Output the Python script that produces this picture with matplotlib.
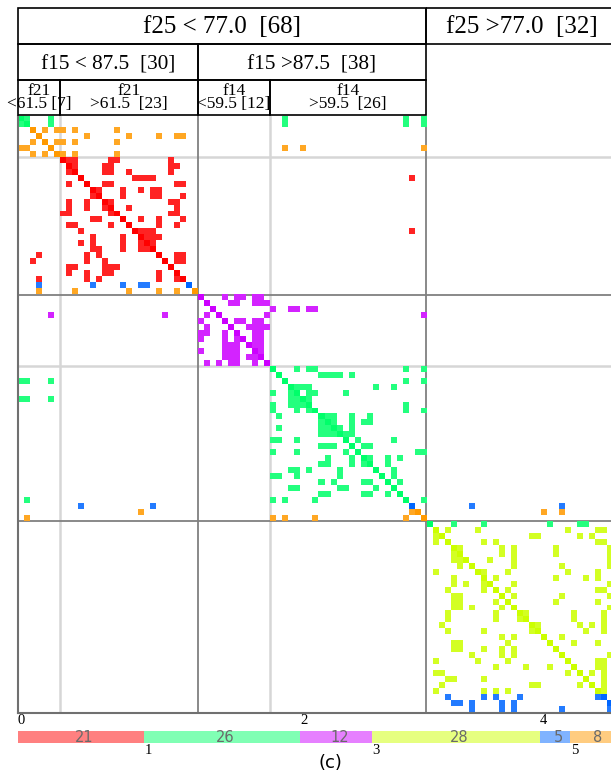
import matplotlib

matplotlib.use("Agg")
import matplotlib.colors as mcolors
import matplotlib.pyplot as plt
import numpy as np
from matplotlib.patches import Rectangle

# cluster of each row/column item, in tree (leaf) order
row_cluster = [
    1, 1, 5, 5, 5, 5, 5,
    0, 0, 0, 0, 0, 0, 0, 0, 0, 0, 0, 0, 0, 0, 0, 0, 0, 0, 0, 0, 0, 4, 5,
    2, 2, 2, 2, 2, 2, 2, 2, 2, 2, 2, 2,
    1, 1, 1, 1, 1, 1, 1, 1, 1, 1, 1, 1, 1, 1, 1, 1, 1, 1, 1, 1, 1, 1, 1, 4, 5, 5,
    1, 3, 3, 3, 3, 3, 3, 3, 3, 3, 3, 3, 3, 3, 3, 3, 3, 3, 3, 3, 3, 3, 3, 3, 3, 3, 3, 3, 3, 4, 4, 4,
]

# neighbour columns marked in each row
row_links = [
    [0, 1, 5, 44, 64, 67], [0, 1, 5, 44, 64, 67], [2, 4, 6, 7, 9, 16], [3, 11, 18, 23, 26, 27],
    [2, 4, 6, 7, 9, 16], [0, 1, 5, 44, 47, 67], [2, 4, 6, 7, 9, 16],
    [7, 8, 9, 15, 16, 25], [8, 9, 14, 15, 25, 26], [8, 9, 14, 15, 18, 25], [10, 19, 20, 21, 22, 65],
    [8, 11, 14, 15, 26, 27], [12, 13, 17, 20, 22, 23], [12, 13, 17, 22, 23, 27], [8, 11, 14, 15, 25, 26],
    [8, 11, 14, 15, 18, 26], [7, 8, 15, 16, 25, 26], [12, 13, 17, 20, 23, 27], [8, 9, 15, 18, 23, 26],
    [10, 19, 20, 21, 22, 65], [12, 17, 20, 21, 22, 23], [10, 12, 17, 20, 21, 22], [12, 13, 17, 20, 21, 22],
    [3, 11, 13, 23, 26, 27], [2, 11, 14, 24, 26, 27], [8, 9, 14, 15, 16, 25], [8, 11, 14, 15, 23, 26],
    [3, 11, 13, 23, 26, 27], [3, 12, 17, 20, 21, 28], [3, 9, 18, 23, 26, 29],
    [30, 34, 36, 37, 39, 40], [31, 35, 36, 39, 40, 41], [32, 42, 45, 46, 48, 49], [5, 24, 31, 33, 41, 67],
    [30, 34, 36, 37, 39, 40], [31, 35, 38, 39, 40, 41], [30, 31, 34, 36, 39, 40], [30, 34, 36, 37, 39, 40],
    [34, 35, 36, 38, 39, 40], [30, 34, 35, 36, 39, 40], [34, 35, 36, 38, 39, 40], [31, 33, 35, 36, 39, 41],
    [42, 46, 48, 49, 64, 67], [43, 50, 51, 52, 53, 55], [0, 1, 5, 44, 64, 67], [45, 46, 47, 48, 59, 62],
    [42, 45, 46, 48, 49, 54], [0, 1, 5, 45, 46, 47, 48], [42, 45, 46, 47, 48, 64], [42, 46, 48, 49, 64, 67],
    [43, 50, 51, 52, 55, 58], [50, 51, 52, 55, 57, 58], [43, 50, 51, 52, 53, 55], [50, 51, 52, 53, 54, 55],
    [42, 43, 46, 54, 56, 62], [50, 51, 52, 55, 57, 58], [42, 46, 54, 56, 66, 67], [51, 55, 57, 58, 61, 63],
    [50, 51, 55, 57, 58, 61], [45, 46, 48, 53, 59, 62], [42, 43, 46, 53, 60, 62], [50, 52, 57, 58, 61, 63],
    [45, 46, 53, 54, 59, 62], [50, 51, 57, 58, 61, 63], [1, 42, 44, 49, 64, 67], [10, 22, 65, 75, 90],
    [20, 65, 66, 87, 90], [1, 42, 44, 49, 64, 67],
    [68, 72, 77, 88, 93, 94], [69, 71, 76, 91, 96, 97], [69, 70, 85, 86, 93, 95], [69, 71, 77, 79, 96, 97],
    [72, 73, 80, 82, 89, 98], [72, 73, 80, 82, 89, 98], [72, 73, 74, 78, 82, 98], [73, 75, 82, 90, 98],
    [69, 76, 77, 81, 91, 96], [72, 77, 79, 89, 94, 96], [72, 74, 77, 78, 82, 98], [71, 77, 79, 81, 96, 97],
    [72, 73, 80, 82, 90, 98], [72, 73, 79, 81, 89, 96], [72, 73, 75, 80, 82, 98], [71, 79, 83, 84, 92, 97],
    [71, 79, 83, 84, 92, 97], [70, 85, 86, 93, 95, 97], [71, 77, 85, 86, 94, 97], [80, 82, 87, 90],
    [72, 73, 81, 88, 92, 96], [72, 73, 77, 80, 82, 89], [75, 80, 82, 90, 98], [69, 76, 81, 91, 96, 97],
    [79, 84, 88, 92, 96, 97], [69, 70, 91, 93, 95, 97], [71, 72, 77, 94, 97], [70, 85, 86, 93, 95, 97],
    [69, 77, 79, 81, 96, 97], [71, 77, 79, 83, 96, 97], [72, 73, 75, 80, 82, 98], [75, 80, 82, 90, 98, 99],
]

# decision tree header: (label, first item, last item + 1, depth)
tree_labels = ["f25 < 77.0  [68]", "f25 >77.0  [32]", "f15 < 87.5  [30]", "f15 >87.5  [38]",
               "f21\n<61.5 [7]", "f21\n>61.5  [23]", "f14\n<59.5 [12]", "f14\n>59.5  [26]"]
tree_start = [0, 68, 0, 30, 0, 7, 30, 42]
tree_end = [68, 100, 30, 68, 7, 30, 42, 68]
tree_depth = [0, 0, 1, 1, 2, 2, 2, 2]

cluster_ids = [0, 1, 2, 3, 4, 5]
cluster_counts = [21, 26, 12, 28, 5, 8]
cluster_colors = ["#ff0000", "#00ff6a", "#cc00ff", "#ccff00", "#0066ff", "#ff9900"]

W, H = 611, 777
N = len(row_cluster)


def fig_box(x0, y0, x1, y1):
    # pixel box (top-left origin) -> figure fraction rect
    return [x0 / W, 1 - y1 / H, (x1 - x0) / W, (y1 - y0) / H]


def blend(color, amount):
    rgb = np.array(mcolors.to_rgb(color))
    return rgb + (1 - rgb) * amount


fig = plt.figure(figsize=(W / 100, H / 100), dpi=100)

# ---- matrix ----
img = np.zeros((N, N, 4))
for i, (label, cols) in enumerate(zip(row_cluster, row_links)):
    for j in cols:
        img[i, j, :3] = blend(cluster_colors[label], 0.0 if i == j else 0.14)
        img[i, j, 3] = 1.0

ax = fig.add_axes(fig_box(18, 115.5, 618, 712.5))
ax.set_xlim(0, N)
ax.set_ylim(N, 0)
ax.axis("off")
for pos in (7, 42):
    ax.axvline(pos, color="#d6d6d6", lw=1.8, zorder=1)
    ax.axhline(pos, color="#d6d6d6", lw=1.8, zorder=1)
for pos in (30, 68):
    ax.axvline(pos, color="#808080", lw=1.3, zorder=1)
    ax.axhline(pos, color="#808080", lw=1.3, zorder=1)
ax.imshow(img, extent=(0, N, N, 0), interpolation="nearest", aspect="auto", zorder=2)
ax.axvline(0, color="#707070", lw=1.5, zorder=3, clip_on=False)
ax.axhline(N, color="#707070", lw=1.5, zorder=3, clip_on=False)

# ---- tree header ----
hx = fig.add_axes(fig_box(18, 8, 618, 115.5))
hx.set_xlim(0, N)
hx.set_ylim(3, 0)
hx.axis("off")
serif = "Liberation Serif"
for label, s, e, d in zip(tree_labels, tree_start, tree_end, tree_depth):
    hx.add_patch(Rectangle((s, d), e - s, 1, fill=False, ec="black", lw=1.2, clip_on=False))
    xc = (s + e) / 2
    if d < 2:
        hx.text(xc, d + 0.71, label, ha="center", va="baseline", family=serif,
                fontsize=18 if d == 0 else 15.3)
    else:
        top, bottom = label.split("\n")
        hx.text(xc, 2.42, top, ha="center", va="baseline", family=serif, fontsize=12.5)
        hx.text(xc, 2.80, bottom, ha="center", va="baseline", family=serif, fontsize=12.5)

# ---- cluster size bar ----
bx = fig.add_axes(fig_box(18, 731, 618, 743))
bx.set_xlim(0, N)
bx.set_ylim(0, 1)
bx.axis("off")
lefts = np.concatenate([[0], np.cumsum(cluster_counts)[:-1]])
bar_colors = [blend(c, 0.5) for c in cluster_colors]
bx.barh(0.5, cluster_counts, left=lefts, height=1.0, color=bar_colors)
for cid, left, count in zip(cluster_ids, lefts, cluster_counts):
    bx.text(left + count / 2 + 0.6, 0.45, str(count), ha="center", va="center",
            fontsize=10.5, color="#6a6a6a")
    if cid % 2 == 0:
        bx.text(left, 1.3, str(cid), ha="left", va="bottom", family=serif, fontsize=10.5)
    else:
        bx.text(left + 0.1, -0.1, str(cid), ha="left", va="top", family=serif, fontsize=10.5)

fig.text(330 / W, 1 - 763 / H, "(c)", ha="center", va="center", fontsize=13)

fig.savefig("out.png", dpi=100)
